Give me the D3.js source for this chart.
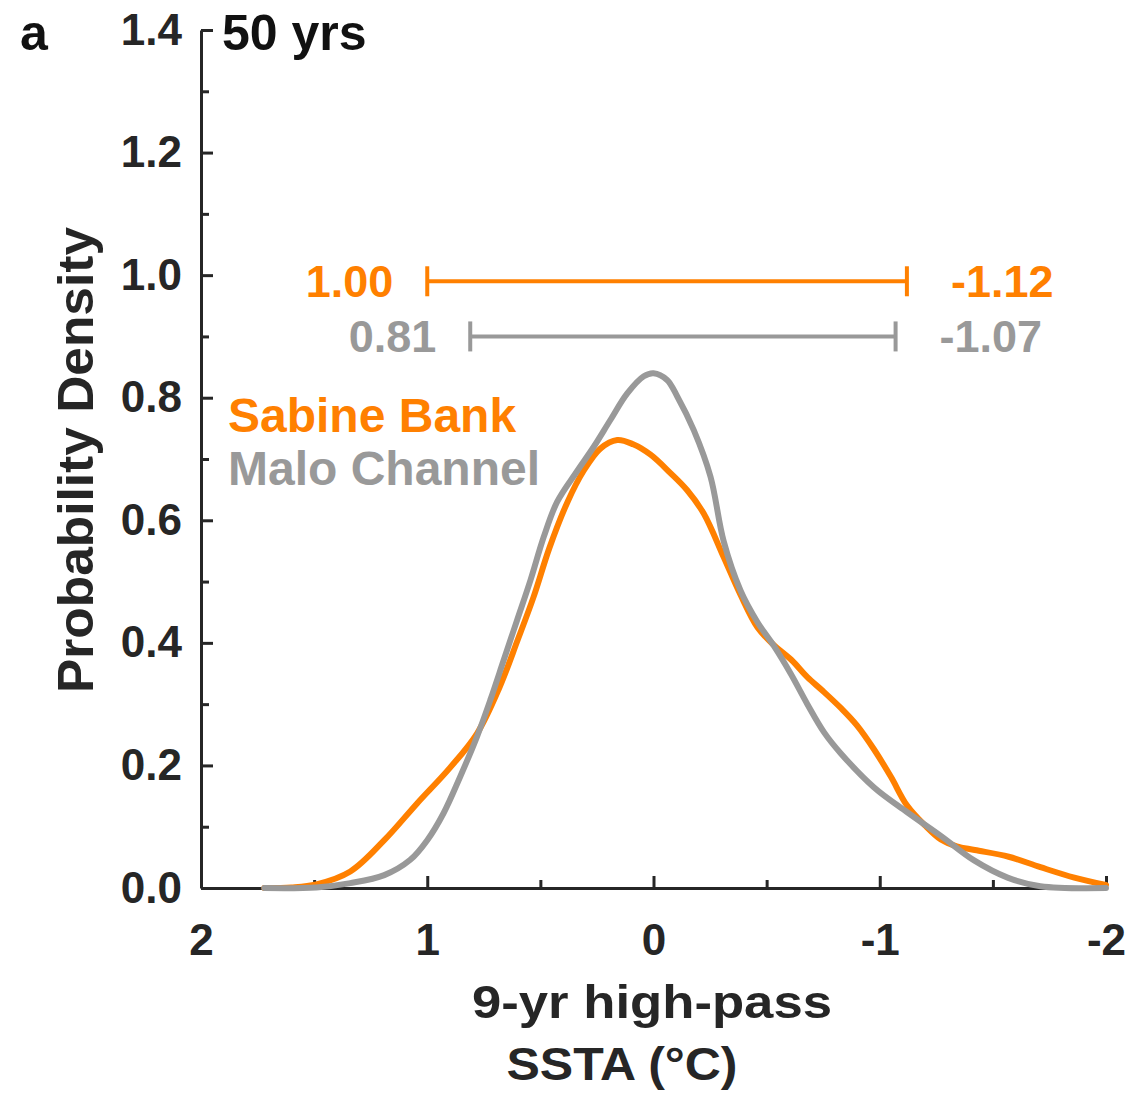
<!DOCTYPE html>
<html>
<head>
<meta charset="utf-8">
<script src="https://cdn.jsdelivr.net/npm/d3@7"></script>
<style>
  body { margin: 0; background: #fff; }
  svg text { font-family: "Liberation Sans", Arial, Helvetica, sans-serif; font-weight: bold; }
</style>
</head>
<body>
<svg id="pdfChart" width="1134" height="1097"></svg>
<script>
// series names / colours
var seriesNames = ["Sabine Bank", "Malo Channel"];
var seriesColors = ["#ff8000", "#999999"];

// Sabine Bank PDF
var sabineX = [1.72, 1.6, 1.49, 1.34, 1.19, 1.045, 0.9, 0.78, 0.68, 0.6, 0.53, 0.46, 0.38, 0.31, 0.235, 0.16, 0.09, 0.013,
  -0.075, -0.149, -0.222, -0.31, -0.385, -0.46, -0.53, -0.61, -0.68, -0.75, -0.83, -0.9, -0.975, -1.05, -1.12, -1.2,
  -1.27, -1.34, -1.42, -1.57, -1.71, -1.86, -2.0];
var sabineY = [0.0, 0.001, 0.006, 0.027, 0.078, 0.138, 0.196, 0.252, 0.328, 0.405, 0.475, 0.555, 0.63, 0.68, 0.717, 0.731, 0.724, 0.707,
  0.677, 0.649, 0.611, 0.54, 0.478, 0.425, 0.397, 0.372, 0.344, 0.321, 0.293, 0.265, 0.226, 0.181, 0.135, 0.102,
  0.079, 0.068, 0.062, 0.051, 0.034, 0.017, 0.005];

// Malo Channel PDF
var maloX = [1.72, 1.49, 1.34, 1.19, 1.075, 1.0, 0.928, 0.854, 0.78, 0.721, 0.662, 0.603, 0.544, 0.485, 0.426, 0.338, 0.264, 0.19, 0.116, 0.043, 0.0,
  -0.06, -0.105, -0.178, -0.252, -0.31, -0.385, -0.459, -0.532, -0.606, -0.68, -0.754, -0.827, -0.975, -1.12, -1.27, -1.417, -1.565, -1.71, -2.0];
var maloY = [0.0, 0.001, 0.008, 0.021, 0.046, 0.078, 0.122, 0.182, 0.247, 0.307, 0.372, 0.437, 0.502, 0.573, 0.63, 0.68, 0.72, 0.764, 0.807, 0.835, 0.84,
  0.829, 0.802, 0.747, 0.671, 0.566, 0.485, 0.434, 0.395, 0.35, 0.3, 0.254, 0.22, 0.164, 0.124, 0.085, 0.045, 0.017, 0.003, 0.0];

// ranges shown as bars above the curves
var rangeLo = [1.00, 0.81];
var rangeHi = [-1.12, -1.07];
var rangeLabelsLo = ["1.00", "0.81"];
var rangeLabelsHi = ["-1.12", "-1.07"];
var rangeRowY = [0.99, 0.90];

var xTicks = [2, 1, 0, -1, -2];
var xMinor = [1.5, 0.5, -0.5, -1.5];
var yTicks = [0, 0.2, 0.4, 0.6, 0.8, 1.0, 1.2, 1.4];
var yMinor = [0.1, 0.3, 0.5, 0.7, 0.9, 1.1, 1.3];

var svg = d3.select("#pdfChart");
var axisColor = "#262626";

var x = d3.scaleLinear().domain([2, -2]).range([201, 1106]);
var y = d3.scaleLinear().domain([0, 1.4]).range([888, 30]);

// y axis
svg.append("g")
  .attr("transform", "translate(" + x(2) + ",0)")
  .call(d3.axisLeft(y).tickValues(yTicks).tickFormat(d3.format(".1f"))
    .tickSizeInner(-12).tickSizeOuter(0).tickPadding(19));
svg.append("g")
  .attr("transform", "translate(" + x(2) + ",0)")
  .call(d3.axisLeft(y).tickValues(yMinor).tickFormat("").tickSizeInner(-8).tickSizeOuter(0))
  .select(".domain").remove();

// x axis
svg.append("g")
  .attr("transform", "translate(0," + y(0) + ")")
  .call(d3.axisBottom(x).tickValues(xTicks).tickFormat(function(d) { return String(d); })
    .tickSizeInner(-12).tickSizeOuter(0).tickPadding(36));
svg.append("g")
  .attr("transform", "translate(0," + y(0) + ")")
  .call(d3.axisBottom(x).tickValues(xMinor).tickFormat("").tickSizeInner(-8).tickSizeOuter(0))
  .select(".domain").remove();

svg.selectAll(".domain").attr("stroke", axisColor).attr("stroke-width", 3);
svg.selectAll(".tick line").attr("stroke", axisColor).attr("stroke-width", 3);
svg.selectAll(".tick text")
  .attr("fill", axisColor)
  .style("font-size", "44px")
  .style("font-family", "'Liberation Sans', Arial, sans-serif")
  .style("font-weight", "bold");

// curves
var line = d3.line()
  .x(function(d) { return x(d[0]); })
  .y(function(d) { return y(d[1]); })
  .curve(d3.curveCatmullRom.alpha(0.5));

var series = [d3.zip(sabineX, sabineY), d3.zip(maloX, maloY)];
series.forEach(function(s, i) {
  svg.append("path")
    .datum(s)
    .attr("fill", "none")
    .attr("stroke", seriesColors[i])
    .attr("stroke-width", 6)
    .attr("stroke-linejoin", "round")
    .attr("stroke-linecap", "round")
    .attr("d", line);
});

// range bars
rangeLo.forEach(function(lo, i) {
  var g = svg.append("g").attr("stroke", seriesColors[i]).attr("stroke-width", 4);
  var yy = y(rangeRowY[i]);
  g.append("line").attr("x1", x(lo)).attr("x2", x(rangeHi[i])).attr("y1", yy).attr("y2", yy);
  g.append("line").attr("x1", x(lo)).attr("x2", x(lo)).attr("y1", yy - 15).attr("y2", yy + 15);
  g.append("line").attr("x1", x(rangeHi[i])).attr("x2", x(rangeHi[i])).attr("y1", yy - 15).attr("y2", yy + 15);
  svg.append("text")
    .attr("x", x(lo) - 34).attr("y", yy + 16)
    .attr("text-anchor", "end")
    .attr("fill", seriesColors[i])
    .style("font-size", "45px")
    .text(rangeLabelsLo[i]);
  svg.append("text")
    .attr("x", x(rangeHi[i]) + 44).attr("y", yy + 16)
    .attr("fill", seriesColors[i])
    .style("font-size", "45px")
    .text(rangeLabelsHi[i]);
});

// legend
seriesNames.forEach(function(n, i) {
  svg.append("text")
    .attr("x", 228).attr("y", 432 + i * 53)
    .attr("fill", seriesColors[i])
    .style("font-size", "48px")
    .text(n);
});

// titles
svg.append("text").attr("x", 20).attr("y", 50).attr("fill", "#111").style("font-size", "50px").text("a");
svg.append("text").attr("x", 222).attr("y", 50).attr("fill", "#111").style("font-size", "50px").text("50 yrs");

svg.append("text")
  .attr("transform", "translate(93,460) rotate(-90)")
  .attr("text-anchor", "middle")
  .attr("fill", axisColor)
  .attr("textLength", 466).attr("lengthAdjust", "spacingAndGlyphs")
  .style("font-size", "50px")
  .text("Probability Density");

svg.append("text")
  .attr("x", 652).attr("y", 1018)
  .attr("text-anchor", "middle")
  .attr("fill", axisColor)
  .attr("textLength", 360).attr("lengthAdjust", "spacingAndGlyphs")
  .style("font-size", "46px")
  .text("9-yr high-pass");
svg.append("text")
  .attr("x", 622).attr("y", 1080)
  .attr("text-anchor", "middle")
  .attr("fill", axisColor)
  .attr("textLength", 231).attr("lengthAdjust", "spacingAndGlyphs")
  .style("font-size", "46px")
  .text("SSTA (°C)");
</script>
</body>
</html>
